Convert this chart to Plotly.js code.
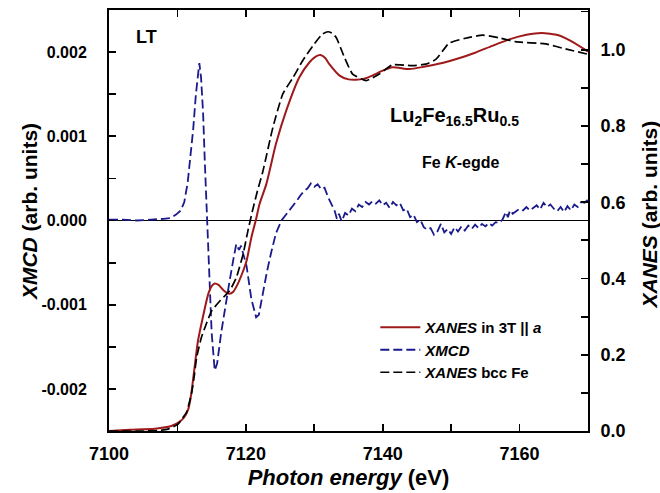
<!DOCTYPE html>
<html>
<head>
<meta charset="utf-8">
<script src="https://cdn.plot.ly/plotly-3.0.1.min.js"></script>
<style>html,body{margin:0;padding:0;background:#fff;}#chart{width:660px;height:493px;}</style>
</head>
<body>
<div id="chart"></div>
<script>
// XANES in 3T || a (red, right axis)
const xanesE = [7100, 7103, 7106.7, 7109.1, 7110.3, 7111.0, 7111.6, 7112.0, 7112.5, 7113.0, 7113.7, 7114.5, 7115.0, 7115.45, 7116.0, 7116.8, 7117.6, 7118.2, 7118.8, 7119.5, 7120.1, 7120.8, 7121.5, 7122.0, 7123.0, 7124.4, 7125.9, 7127.8, 7129.3, 7130.2, 7130.9, 7131.6, 7132.2, 7133.7, 7135.0, 7136.1, 7137.3, 7138.5, 7140.0, 7141.4, 7143.9, 7146.0, 7148.7, 7151.0, 7153.5, 7156.0, 7158.5, 7161.0, 7163.2, 7165.7, 7168.0, 7170.0];
const xanesV = [0.0, 0.003, 0.006, 0.013, 0.024, 0.036, 0.058, 0.095, 0.166, 0.236, 0.297, 0.359, 0.380, 0.387, 0.383, 0.368, 0.360, 0.366, 0.385, 0.415, 0.446, 0.507, 0.556, 0.595, 0.648, 0.753, 0.840, 0.927, 0.967, 0.982, 0.986, 0.978, 0.962, 0.932, 0.922, 0.921, 0.924, 0.932, 0.945, 0.954, 0.949, 0.955, 0.965, 0.977, 0.992, 1.010, 1.027, 1.039, 1.044, 1.038, 1.018, 0.995];

// XANES bcc Fe (black dashed, right axis)
const bccE = [7100, 7105, 7107.1, 7108.6, 7110.1, 7110.8, 7111.3, 7112.05, 7112.5, 7112.8, 7113.5, 7114.2, 7115.0, 7116.2, 7117.6, 7118.6, 7119.6, 7120.3, 7121.0, 7121.7, 7122.5, 7123.95, 7125.4, 7126.9, 7128.3, 7130.0, 7131.2, 7132.0, 7132.6, 7133.2, 7134.4, 7135.6, 7137.6, 7139.5, 7141.4, 7144.3, 7146.3, 7147.8, 7149.7, 7152.1, 7154.6, 7157.0, 7159.4, 7163.8, 7166.7, 7170.0];
const bccV = [0.0, 0.0, 0.001, 0.005, 0.018, 0.035, 0.048, 0.097, 0.150, 0.192, 0.245, 0.280, 0.315, 0.341, 0.367, 0.402, 0.464, 0.525, 0.580, 0.630, 0.682, 0.796, 0.884, 0.927, 0.971, 1.015, 1.041, 1.047, 1.043, 1.032, 0.980, 0.936, 0.919, 0.936, 0.960, 0.958, 0.962, 0.975, 1.017, 1.030, 1.038, 1.031, 1.021, 1.015, 1.002, 0.988];

// XMCD (blue dashed, left axis)
const xmcdE = [7100, 7102, 7104, 7106, 7107, 7108, 7109, 7109.8, 7110.5, 7111.0, 7111.5, 7112.0, 7112.3, 7112.7, 7113.0, 7113.2, 7113.45, 7113.75, 7114.0, 7114.2, 7114.5, 7115.0, 7115.45, 7115.8, 7116.4, 7117.0, 7117.6, 7118.2, 7118.6, 7119.0, 7119.3, 7119.7, 7120.1, 7120.8, 7121.5, 7121.9, 7122.5, 7123.1, 7123.7, 7124.4, 7125.2, 7125.8,
  7126.5, 7127.0, 7127.5, 7128.0, 7128.5, 7129.0, 7129.5, 7130.0, 7130.5, 7131.0, 7131.5, 7132.0, 7132.5, 7133.0, 7133.3, 7133.6, 7134.0, 7134.5, 7135.0, 7135.5, 7136.0, 7136.5, 7137.0, 7137.5, 7138.0, 7138.5, 7139.0, 7139.5, 7140.0, 7140.5, 7141.0, 7141.5, 7142.0, 7142.5, 7143.0, 7143.5, 7144.0, 7144.5, 7145.0, 7145.5, 7146.0, 7146.5, 7147.0, 7147.5, 7148.0, 7148.5, 7149.0, 7149.5, 7150.0, 7150.5, 7151.0, 7151.5, 7152.0, 7152.5, 7153.0, 7153.5, 7154.0, 7154.5, 7155.0, 7155.5, 7156.0, 7156.5, 7157.0, 7157.5, 7158.0, 7158.3, 7158.6, 7159.0, 7159.5, 7160.0, 7160.5, 7161.0, 7161.5, 7162.0, 7162.5, 7163.0, 7163.5, 7164.0, 7164.5, 7165.0, 7165.5, 7166.0, 7166.5, 7167.0, 7167.5, 7168.0, 7168.5, 7169.0, 7169.5, 7170.0];
const xmcdV = [0.00001, 0.00001, 0.0, 0.00001, 0.00001, 0.00002, 0.00003, 0.00007, 0.00012, 0.00022, 0.00045, 0.0008, 0.00108, 0.0015, 0.00178, 0.00187, 0.0017, 0.00128, 0.0007, 0.00028, -0.00034, -0.00133, -0.00178, -0.0017, -0.00133, -0.001, -0.00073, -0.00045, -0.00028, -0.00035, -0.0003, -0.00042, -0.00054, -0.00093, -0.00115, -0.00112, -0.00085, -0.0006, -0.00038, -0.00015, 0.0, 0.00006,
  0.00014, 0.00019, 0.00024, 0.00030, 0.00035, 0.00038, 0.00044, 0.00040, 0.00043, 0.00037, 0.00039, 0.00028, 0.00020, 0.00011, 0.00002, 0.00008, -0.00001, 0.00009, 0.00006, 0.00014, 0.00011, 0.00019, 0.00016, 0.00022, 0.00019, 0.00023, 0.00020, 0.00024, 0.00018, 0.00021, 0.00015, 0.00022, 0.00018, 0.00021, 0.00012, 0.00014, 0.00004, 0.00007, -0.00002, 0.00001, -0.00008, -0.00011, -0.00009, -0.00017, -0.00013, -0.00004, -0.00014, -0.00010, -0.00016, -0.00008, -0.00013, -0.00007, -0.00012, -0.00006, -0.00010, -0.00005, -0.00009, -0.00004, -0.00007, -0.00003, -0.00006, -0.00002, -0.00003, 0.00001, 0.00010, 0.00004, 0.00012, 0.00008, 0.00011, 0.00014, 0.00012, 0.00016, 0.00012, 0.00015, 0.00018, 0.00013, 0.00021, 0.00016, 0.00019, 0.00014, 0.00011, 0.00016, 0.00010, 0.00017, 0.00012, 0.00019, 0.00016, 0.00022, 0.00021, 0.00025];

// Tick labels
const xTickVals = [7100, 7110, 7120, 7130, 7140, 7150, 7160, 7170];
const xTickText = ['7100', '', '7120', '', '7140', '', '7160', ''];
const yLTickVals = [-0.0025, -0.002, -0.0015, -0.001, -0.0005, 0, 0.0005, 0.001, 0.0015, 0.002, 0.0025];
const yLTickText = ['', '-0.002', '', '-0.001', '', '0.000', '', '0.001', '', '0.002', ''];
const yRTickVals = [0, 0.1, 0.2, 0.3, 0.4, 0.5, 0.6, 0.7, 0.8, 0.9, 1.0, 1.1];
const yRTickText = ['0.0', '', '0.2', '', '0.4', '', '0.6', '', '0.8', '', '1.0', ''];

const FONT = 'Liberation Sans, Arial, sans-serif';
const bold = (size) => ({family: FONT, size: size, color: '#000', weight: 'bold'});

const traces = [
  {x: xanesE, y: xanesV, yaxis: 'y2', mode: 'lines', name: '<i>XANES</i> in 3T || <i>a</i>',
   line: {color: '#9e1a1a', width: 2, shape: 'spline', smoothing: 0.6}},
  {x: xmcdE, y: xmcdV, yaxis: 'y', mode: 'lines', name: '<i>XMCD</i>',
   line: {color: '#1a1a8c', width: 1.8, dash: '9px,4px'}},
  {x: bccE, y: bccV, yaxis: 'y2', mode: 'lines', name: '<i>XANES</i> bcc Fe',
   line: {color: '#000', width: 1.7, dash: '9px,4px', shape: 'spline', smoothing: 0.5}}
];

const axisCommon = {ticks: 'inside', ticklen: 7, tickwidth: 1.8, tickcolor: '#000', showline: true,
  linewidth: 2, linecolor: '#000', showgrid: false, tickmode: 'array'};

const layout = {
  width: 660, height: 493,
  margin: {l: 109, r: 72, t: 10, b: 62},
  paper_bgcolor: '#fff', plot_bgcolor: '#fff',
  showlegend: true,
  legend: {x: 0.556, y: 0.285, xanchor: 'left', yanchor: 'top', bgcolor: 'rgba(0,0,0,0)',
    font: bold(15), tracegroupgap: 0, itemwidth: 40},
  xaxis: Object.assign({}, axisCommon, {range: [7100, 7170], tickvals: xTickVals, ticktext: xTickText,
    mirror: 'ticks', zeroline: false, tickfont: bold(18), ticklabelstandoff: 5,
    title: {text: '<i>Photon energy</i> (eV)', font: bold(22), standoff: 7}}),
  yaxis: Object.assign({}, axisCommon, {range: [-0.0025, 0.0025], tickvals: yLTickVals, ticktext: yLTickText,
    zeroline: true, zerolinecolor: '#000', zerolinewidth: 1.8, tickfont: bold(16), ticklabelstandoff: 17}),
  yaxis2: Object.assign({}, axisCommon, {range: [0, 1.104], overlaying: 'y', side: 'right',
    tickvals: yRTickVals, ticktext: yRTickText,
    zeroline: false, tickfont: bold(18), ticklabelstandoff: 7}),
  annotations: [
    {xref: 'paper', yref: 'paper', x: -0.167, y: 0.52, xanchor: 'center', yanchor: 'middle', textangle: -90,
     text: '<i>XMCD</i> (arb. units)', showarrow: false, font: bold(21)},
    {xref: 'paper', yref: 'paper', x: 1.128, y: 0.515, xanchor: 'center', yanchor: 'middle', textangle: -90,
     text: '<i>XANES</i> (arb. units)', showarrow: false, font: bold(21)},
    {xref: 'paper', yref: 'paper', x: 0.078, y: 0.935, xanchor: 'center', yanchor: 'middle', text: 'LT', showarrow: false,
     font: bold(18)},
    {xref: 'paper', yref: 'paper', x: 0.722, y: 0.748, xanchor: 'center', yanchor: 'middle',
     text: 'Lu<sub>2</sub>Fe<sub>16.5</sub>Ru<sub>0.5</sub>', showarrow: false, font: bold(20)},
    {xref: 'paper', yref: 'paper', x: 0.733, y: 0.638, xanchor: 'center', yanchor: 'middle',
     text: 'Fe <i>K</i>-egde', showarrow: false, font: bold(16)}
  ]
};

Plotly.newPlot('chart', traces, layout, {staticPlot: true, displayModeBar: false});
</script>
</body>
</html>
